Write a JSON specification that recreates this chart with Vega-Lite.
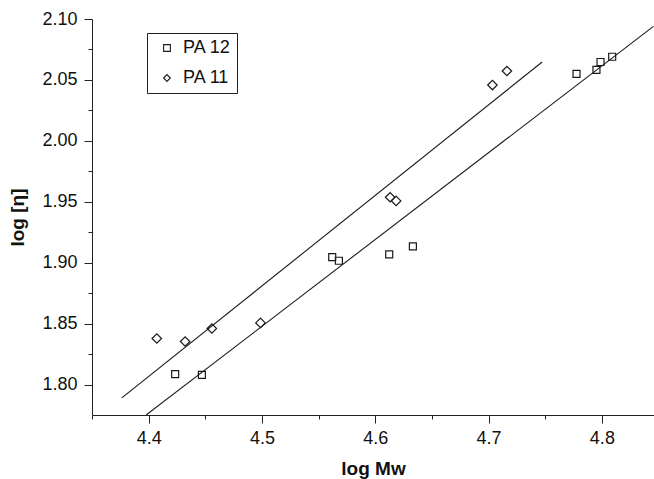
{
  "$schema": "https://vega.github.io/schema/vega-lite/v6.json",
  "autosize": {"type": "none"},
  "padding": {"left": 92, "top": 19, "right": 0, "bottom": 64},
  "width": 562,
  "height": 396,
  "background": "white",
  "config": {
    "view": {"stroke": null},
    "font": "Liberation Sans",
    "axis": {
      "grid": false,
      "domainColor": "#222222",
      "domainWidth": 1,
      "tickColor": "#222222",
      "tickWidth": 1,
      "labelColor": "#111111",
      "labelFont": "Liberation Sans",
      "labelFontSize": 18,
      "titleFont": "Liberation Sans",
      "titleFontSize": 19,
      "titleFontWeight": "bold",
      "titleColor": "#111111"
    },
    "legend": {
      "labelFont": "Liberation Sans",
      "labelFontSize": 18,
      "labelColor": "#111111",
      "labelLimit": 300
    }
  },
  "datasets": {
    "points": [
      {"series": "PA 12", "logMw": 4.4234, "logEta": 1.8085},
      {"series": "PA 12", "logMw": 4.4470, "logEta": 1.8079},
      {"series": "PA 12", "logMw": 4.5620, "logEta": 1.9046},
      {"series": "PA 12", "logMw": 4.5679, "logEta": 1.9016},
      {"series": "PA 12", "logMw": 4.6123, "logEta": 1.9069},
      {"series": "PA 12", "logMw": 4.6332, "logEta": 1.9134},
      {"series": "PA 12", "logMw": 4.7776, "logEta": 2.0550},
      {"series": "PA 12", "logMw": 4.7952, "logEta": 2.0583},
      {"series": "PA 12", "logMw": 4.7988, "logEta": 2.0647},
      {"series": "PA 12", "logMw": 4.8091, "logEta": 2.0690},
      {"series": "PA 11", "logMw": 4.4072, "logEta": 1.8378},
      {"series": "PA 11", "logMw": 4.4322, "logEta": 1.8353},
      {"series": "PA 11", "logMw": 4.4558, "logEta": 1.8460},
      {"series": "PA 11", "logMw": 4.4987, "logEta": 1.8506},
      {"series": "PA 11", "logMw": 4.6131, "logEta": 1.9537},
      {"series": "PA 11", "logMw": 4.6184, "logEta": 1.9507},
      {"series": "PA 11", "logMw": 4.7034, "logEta": 2.0458},
      {"series": "PA 11", "logMw": 4.7162, "logEta": 2.0573}
    ],
    "fits": [
      {"fit": "PA 11", "logMw": 4.3763, "logEta": 1.7890},
      {"fit": "PA 11", "logMw": 4.7473, "logEta": 2.0647},
      {"fit": "PA 12", "logMw": 4.3978, "logEta": 1.7750},
      {"fit": "PA 12", "logMw": 4.8455, "logEta": 2.0939}
    ]
  },
  "encoding": {
    "x": {
      "field": "logMw",
      "type": "quantitative",
      "scale": {"domain": [4.35, 4.846], "nice": false, "zero": false},
      "axis": {
        "title": "log Mw",
        "values": [4.35, 4.4, 4.45, 4.5, 4.55, 4.6, 4.65, 4.7, 4.75, 4.8],
        "format": ".1f",
        "labelExpr": "abs(datum.value * 10 - round(datum.value * 10)) < 0.001 ? datum.label : ''",
        "tickSize": {"condition": {"test": "abs(datum.value * 10 - round(datum.value * 10)) < 0.001", "value": 8}, "value": 4},
        "labelPadding": 6,
        "titlePadding": 12
      }
    },
    "y": {
      "field": "logEta",
      "type": "quantitative",
      "scale": {"domain": [1.775, 2.1], "nice": false, "zero": false},
      "axis": {
        "title": "log [η]",
        "values": [1.8, 1.825, 1.85, 1.875, 1.9, 1.925, 1.95, 1.975, 2.0, 2.025, 2.05, 2.075, 2.1],
        "format": ".2f",
        "labelExpr": "abs(datum.value * 20 - round(datum.value * 20)) < 0.001 ? datum.label : ''",
        "tickSize": {"condition": {"test": "abs(datum.value * 20 - round(datum.value * 20)) < 0.001", "value": 8}, "value": 4},
        "labelPadding": 7,
        "titlePadding": 14
      }
    }
  },
  "layer": [
    {
      "data": {"name": "fits"},
      "mark": {"type": "line", "color": "#1a1a1a", "strokeWidth": 1.1, "clip": true},
      "encoding": {
        "detail": {"field": "fit", "type": "nominal"}
      }
    },
    {
      "data": {"name": "points"},
      "transform": [{"filter": "datum.series === 'PA 12'"}],
      "mark": {"type": "point", "filled": false, "strokeWidth": 1.2, "color": "#1a1a1a", "opacity": 1, "size": 49},
      "encoding": {
        "shape": {
          "field": "series",
          "type": "nominal",
          "scale": {"domain": ["PA 12", "PA 11"], "range": ["square", "diamond"]},
          "legend": {
            "title": null,
            "orient": "none",
            "legendX": 55,
            "legendY": 14,
            "strokeColor": "#222222",
            "fillColor": "white",
            "padding": 6,
            "rowPadding": 12,
            "symbolSize": 45,
            "symbolStrokeWidth": 1.1,
            "symbolStrokeColor": "#1a1a1a",
            "symbolOffset": 5,
            "labelOffset": 7,
            "labelFont": "Liberation Sans",
            "labelFontSize": 18,
            "labelColor": "#111111"
          }
        }
      }
    },
    {
      "data": {"name": "points"},
      "transform": [{"filter": "datum.series === 'PA 11'"}],
      "mark": {"type": "point", "filled": false, "strokeWidth": 1.2, "color": "#1a1a1a", "opacity": 1, "size": 90},
      "encoding": {
        "shape": {
          "field": "series",
          "type": "nominal",
          "scale": {"domain": ["PA 12", "PA 11"], "range": ["square", "diamond"]},
          "legend": {
            "title": null,
            "orient": "none",
            "legendX": 55,
            "legendY": 14,
            "strokeColor": "#222222",
            "fillColor": "white",
            "padding": 6,
            "rowPadding": 12,
            "symbolSize": 45,
            "symbolStrokeWidth": 1.1,
            "symbolStrokeColor": "#1a1a1a",
            "symbolOffset": 5,
            "labelOffset": 7,
            "labelFont": "Liberation Sans",
            "labelFontSize": 18,
            "labelColor": "#111111"
          }
        }
      }
    }
  ]
}
